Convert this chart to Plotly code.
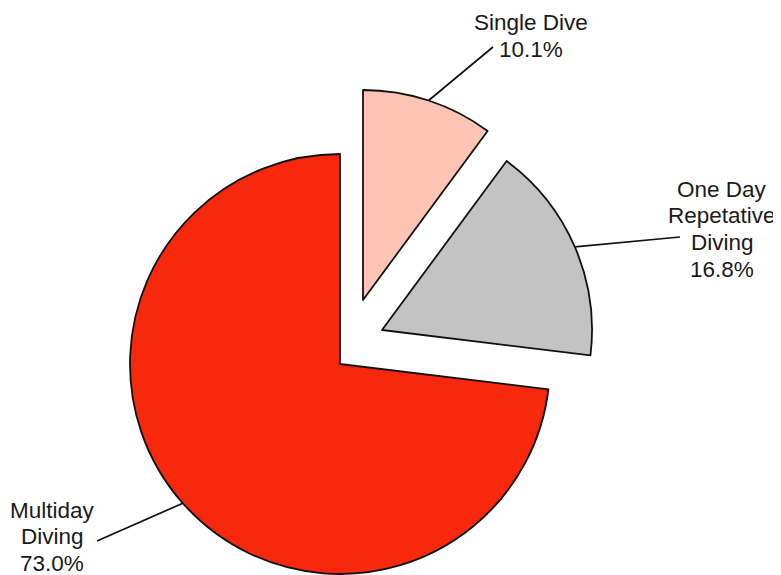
import math
import plotly.graph_objects as go

# ---- data ----
labels = ["Single Dive", "One Day Repetative Diving", "Multiday Diving"]
label_lines = [["Single Dive", "10.1%"],
               ["One Day", "Repetative", "Diving", "16.8%"],
               ["Multiday", "Diving", "73.0%"]]
values = [10.1, 16.8, 73.0]

# ---- style / layout (page pixels) ----
colors = ["#FFC4B4", "#C3C3C3", "#F8280C"]
W, H = 781, 575
OFF = 8                       # page margin around the figure div
R = 210                       # pie radius in px
CX, CY = 340, 364             # centre of the un-exploded pie (page px)
explode = [(23, -64), (42, -34), (0, 0)]   # explode offsets in px
label_x = [531, 722, 52]
label_first_baseline = [31, 197, 518]
LINE_STEP = 26.8
leader_end = [(493, 47), (680, 237), (97, 541)]
FONT = "Liberation Sans, Arial, Helvetica, sans-serif"
FSIZE = 22.5


def px(x):
    return (x - OFF) / W


def py(y):
    return 1 - (y - OFF) / H


total = sum(values)
fig = go.Figure()

shapes = []
annotations = []
cum = 0.0
for i, v in enumerate(values):
    cx = CX + explode[i][0]
    cy = CY + explode[i][1]
    # one pie trace per slice (others transparent) so each slice can be offset
    cols = ["rgba(0,0,0,0)"] * len(values)
    cols[i] = colors[i]
    lw = [0] * len(values)
    lw[i] = 1.8
    fig.add_trace(go.Pie(
        labels=labels, values=values, sort=False, direction="clockwise", rotation=0,
        marker=dict(colors=cols, line=dict(color="#111111", width=lw)),
        textinfo="none", hoverinfo="label+percent" if i == 0 else "skip",
        showlegend=False,
        domain=dict(x=[px(cx - R), px(cx + R)], y=[py(cy + R), py(cy - R)]),
    ))
    # leader line from the slice's mid-angle on the arc to its label
    mid = 2 * math.pi * (cum + v / 2) / total
    hx = cx + R * math.sin(mid)
    hy = cy - R * math.cos(mid)
    tx, ty = leader_end[i]
    shapes.append(dict(type="line", xref="paper", yref="paper",
                       x0=px(hx), y0=py(hy), x1=px(tx), y1=py(ty),
                       line=dict(color="#111111", width=1.7)))
    for k, line in enumerate(label_lines[i]):
        base = label_first_baseline[i] + k * LINE_STEP
        annotations.append(dict(text=line, x=px(label_x[i]), y=py(base - 8),
                                xref="paper", yref="paper", showarrow=False,
                                xanchor="center", yanchor="middle", align="center",
                                font=dict(family=FONT, size=FSIZE, color="#1a1a1a")))
    cum += v

fig.update_layout(width=W, height=H, margin=dict(l=0, r=0, t=0, b=0),
                  paper_bgcolor="white", plot_bgcolor="white",
                  shapes=shapes, annotations=annotations)
fig.write_html("out.html")
